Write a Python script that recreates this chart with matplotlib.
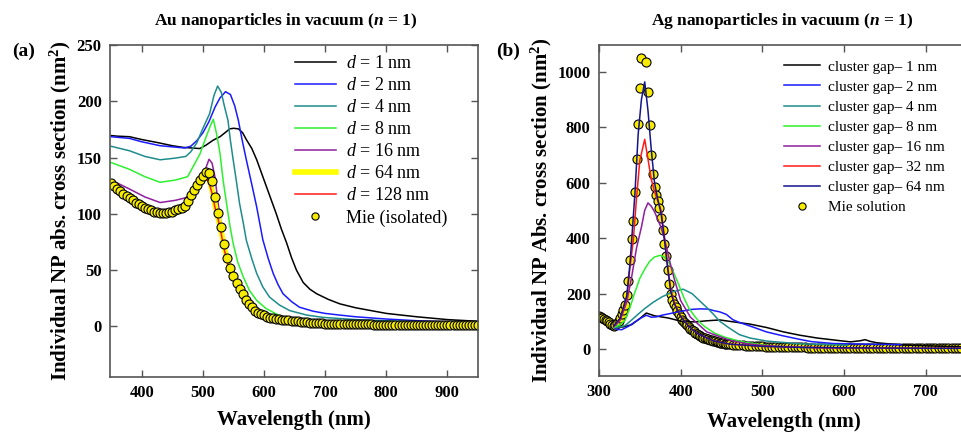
import numpy as np
import matplotlib
matplotlib.use("Agg")
import matplotlib.pyplot as plt

plt.rcParams['font.family'] = ['Liberation Serif', 'DejaVu Serif']
plt.rcParams['mathtext.fontset'] = 'custom'
plt.rcParams['mathtext.rm'] = 'Liberation Serif'
plt.rcParams['mathtext.it'] = 'Liberation Serif:italic'
plt.rcParams['mathtext.bf'] = 'Liberation Serif:bold'
plt.rcParams['mathtext.bfit'] = 'Liberation Serif:italic:bold'

# ---------------- (a) Au nanoparticles ----------------
au_d1_x = [350, 360, 380, 400, 424, 450, 468, 495, 505, 517, 528, 536, 544, 550, 558, 565, 571, 580,
           588, 596, 604, 612, 620, 628, 637, 645, 653, 664, 675, 686, 705, 724, 750, 800, 850, 900, 950]
au_d1_y = [169.5, 169, 168.5, 166, 163.5, 160.5, 159, 158, 161, 165.5, 168.5, 172, 175.5, 176, 175.5, 172,
           166, 158, 148, 136, 124, 112, 100, 87, 74, 61, 50, 39, 33, 29, 24, 20, 16.5, 11.5, 8.5, 6, 4.5]

au_d2_x = [350, 380, 400, 430, 460, 470, 480, 490, 500, 510, 520, 528, 537, 545, 552, 558, 564, 571,
           580, 588, 598, 607, 615, 623, 631, 645, 658, 680, 700, 724, 750, 800, 850, 900, 950]
au_d2_y = [168.5, 167, 164, 160.5, 159, 158.5, 160, 165, 172, 182, 195, 203, 208.5, 206, 196, 183, 166, 148,
           126, 106, 77, 60, 47, 37, 29, 22, 17, 13.5, 11.5, 10, 8.5, 6.5, 5, 4, 3]

au_d4_x = [350, 380, 405, 430, 455, 472, 480, 490, 500, 511, 518, 524, 530, 535, 541, 545, 549.5, 555,
           560, 566, 571, 580, 588, 598, 609, 625, 642, 670, 696, 750, 800, 850, 950]
au_d4_y = [160, 156, 151, 148, 149.5, 151, 155, 163, 176, 189, 205, 213.5, 208, 196, 183, 165, 148, 128,
           109, 92, 76.5, 60, 47, 35, 26, 19, 14, 10, 8, 6, 5, 4, 3]

au_d8_x = [350, 380, 405, 430, 455, 475, 480, 490, 495, 505, 512, 517, 522, 528, 533, 538.7, 544, 549.5,
           557, 566, 576, 588, 603, 620, 642, 670, 700, 800, 950]
au_d8_y = [145.5, 139.5, 133, 128, 130, 133, 138, 148, 153, 168, 178, 184, 172, 153.6, 130, 109, 90, 73.6,
           57, 44, 32, 23, 16, 11, 6, 4, 3, 2.5, 2]

au_d16_x = [350, 380, 405, 430, 455, 470, 485, 495, 503, 510, 515, 519.6, 525, 533, 538, 544, 550, 555,
            562, 571, 585, 598.5, 620, 642, 700, 800, 950]
au_d16_y = [130, 122, 115, 110, 112, 114, 118, 124, 138, 148.5, 145, 133, 109, 79.5, 64, 52.8, 42, 35,
            27, 20, 14, 10, 7, 5, 3, 2, 1.5]

au_big_x = [350, 380, 410, 430, 450, 470, 480, 490, 500, 505, 510, 515, 520, 525, 530, 535, 540, 545,
            550, 560, 570, 580, 590, 600, 620, 640, 660, 700, 800, 950]
au_d64_y = [126.5, 114, 104, 101, 102, 107, 116, 123, 131, 134, 131, 121, 107, 96, 84, 70, 59, 50,
            43, 32, 23.5, 17, 13, 10, 6.5, 5.2, 4.2, 2.6, 1.6, 1]
au_d128_y = [126, 114, 104, 101, 102, 107, 115, 122, 129, 131, 128, 118, 105, 95, 82, 68, 57, 48,
             41, 31, 22.5, 16.5, 12.5, 9.5, 6.3, 5, 4, 2.5, 1.5, 1]

au_mie_x = np.arange(350, 951, 5)
au_mie_y = [127, 124.5, 122, 120, 118, 116, 114, 112, 110, 108.5,
            107, 105.5, 104, 103, 102, 101.5, 101, 101, 101, 101.5,
            102, 103, 104, 105.5, 107, 111, 117, 121.5, 125.5, 130,
            134, 137, 136.5, 129, 115, 101, 88, 73, 61, 52,
            45, 38.5, 33.5, 28.5, 23.5, 19.5, 16.8, 14, 12.3, 11,
            9.7, 8.7, 7.8, 7, 6.5, 6.1, 5.8, 5.5, 5.3, 5.0,
            4.7, 4.4, 4.1, 3.8, 3.5, 3.3, 3.1, 2.9, 2.7, 2.6,
            2.5, 2.4,
            2.3, 2.25, 2.2, 2.15, 2.1, 2.05, 2.0, 1.95, 1.9, 1.85,
            1.8, 1.75, 1.7, 1.65, 1.6, 1.58, 1.55, 1.52, 1.5, 1.47,
            1.44, 1.41, 1.38, 1.35, 1.32, 1.3, 1.28, 1.26, 1.24, 1.22,
            1.2, 1.18, 1.16, 1.14, 1.12, 1.1, 1.08, 1.06, 1.04, 1.02,
            1.0, 0.99, 0.98, 0.97, 0.96, 0.95, 0.94, 0.93, 0.92]

# ---------------- (b) Ag nanoparticles ----------------
ag_g1_x = [318, 330, 340, 350, 358, 368, 385, 401, 418, 432, 448, 465, 485, 505, 526, 546, 567, 590,
           608, 620, 626, 632, 640, 669, 700, 745]
ag_g1_y = [78, 80, 88, 110, 130, 120, 112, 100, 98, 102, 105, 98, 90, 78, 62, 50, 40, 32,
           26, 30, 34, 28, 23, 15, 12, 8]

ag_g2_x = [318, 322, 328, 336, 344, 352, 358, 364, 370, 377, 387, 397, 413, 424, 434, 440, 448, 456,
           464, 472, 490, 505, 525, 546, 560, 587, 640, 670]
ag_g2_y = [78, 71, 70, 82, 98, 113, 122, 115, 116, 122, 128, 134, 143, 145, 144, 139, 134, 125,
           106, 96, 78, 62, 48, 35, 27, 20, 17, 16]

ag_g4_x = [318, 326, 332, 340, 348, 356, 366, 377, 390, 403, 414, 424, 432, 440, 448, 460, 472, 485,
           505, 546, 605]
ag_g4_y = [78, 80, 85, 105, 126, 146, 168, 188, 206, 216, 200, 172, 150, 126, 100, 75, 52, 40,
           29, 19, 14]

ag_g8_x = [318, 326, 332, 338, 344, 350, 356, 362, 368, 375, 380, 386, 392, 398, 404, 410, 418, 424,
           430, 442, 454, 464, 476, 500, 520, 560]
ag_g8_y = [78, 88, 104, 150, 205, 255, 288, 316, 332, 338, 332, 310, 272, 230, 185, 148, 115, 95,
           80, 57, 43, 35, 26, 15, 9, 5]

ag_g16_x = [318, 326, 334, 340, 346, 352, 356, 360, 364, 368, 372, 376, 380, 384, 388, 392, 400, 412,
            432, 460, 480, 500, 550, 600]
ag_g16_y = [80, 104, 170, 260, 365, 440, 500, 527, 515, 495, 468, 438, 400, 350, 300, 255, 175, 115,
            62, 32, 20, 13, 6, 4]

ag_g32_x = [318, 326, 334, 338, 342, 346, 350, 356, 360, 364, 368, 372, 376, 380, 384, 388, 392, 396,
            400, 410, 420, 440, 460, 500, 550, 600, 650, 700, 745]
ag_g32_y = [82, 110, 185, 295, 392, 545, 680, 756, 685, 612, 568, 534, 500, 410, 300, 215, 170, 142,
            118, 82, 57, 30, 18, 10, 6, 4.5, 3.8, 3.2, 2.8]

ag_g64_x = [318, 326, 334, 338, 340, 344, 348, 352, 356, 360, 364, 368, 372, 376, 380, 384, 388, 392,
            396, 400, 410, 420, 440, 460, 500, 550, 600, 650, 700, 745]
ag_g64_y = [83, 112, 192, 310, 392, 560, 775, 900, 963, 860, 720, 600, 540, 490, 400, 295, 205, 165,
            140, 117, 82, 57, 30, 18, 10, 6, 4.5, 3.8, 3.2, 2.8]

ag_mie_x = np.concatenate([np.arange(300, 460, 2), np.arange(460, 748, 4)])
ag_mie_y = [120, 117, 113, 110, 106, 101, 96, 91, 87, 84,
            87, 94, 103, 113, 125, 140, 160, 195, 245, 320,
            395, 460, 565, 685, 812, 940, 1050, 1150, 1150, 1035,
            925, 808, 700, 630, 585, 557, 534, 510, 472, 428,
            380, 336, 285, 235, 198, 178, 162, 150, 138, 126,
            114, 106, 99, 92, 86, 80, 74, 69, 64, 59,
            55, 51, 47, 44, 41, 39, 37, 35, 33, 31,
            29, 27.5, 26, 24.5, 23, 21.5, 20.5, 19.5, 18.5, 17.5,
            16.8, 15.8, 14.9, 14, 13.2, 12.5, 11.8, 11.2, 10.6, 10.1,
            9.6, 9.2, 8.8, 8.4, 8.0, 7.7, 7.4, 7.1, 6.8, 6.6,
            6.4, 6.2, 6.0, 5.8, 5.6, 5.4, 5.3, 5.2, 5.0, 4.9,
            4.8, 4.7, 4.6, 4.5, 4.4, 4.3, 4.2, 4.1, 4.0, 3.95,
            3.9, 3.85, 3.8, 3.75, 3.7, 3.65, 3.6, 3.55, 3.5, 3.45,
            3.4, 3.35, 3.3, 3.25, 3.2, 3.15, 3.1, 3.05, 3.0, 2.95,
            2.9, 2.85, 2.8, 2.75, 2.7, 2.65, 2.6, 2.55, 2.5, 2.45,
            2.4, 2.35]

W, H = 961, 433
fig = plt.figure(figsize=(W / 100, H / 100), dpi=100)


def px_rect(x0, y0, x1, y1):
    return [x0 / W, 1 - y1 / H, (x1 - x0) / W, (y1 - y0) / H]


def style_axes(ax):
    for s in ax.spines.values():
        s.set_color('#555555')
        s.set_linewidth(1.2)
    ax.tick_params(direction='in', top=True, right=True, length=5, width=1,
                   color='#555555', labelsize=12, pad=6)
    for lab in ax.get_xticklabels() + ax.get_yticklabels():
        lab.set_fontweight('bold')


ax1 = fig.add_axes(px_rect(110, 45, 478, 377))
ax1.plot(au_d1_x, au_d1_y, color='black', lw=1.1, label=r'$d$ = 1 nm')
ax1.plot(au_d2_x, au_d2_y, color='#1a1aff', lw=1.1, label=r'$d$ = 2 nm')
ax1.plot(au_d4_x, au_d4_y, color='#1f8c8c', lw=1.1, label=r'$d$ = 4 nm')
ax1.plot(au_d8_x, au_d8_y, color='#2ef02e', lw=1.1, label=r'$d$ = 8 nm')
ax1.plot(au_d16_x, au_d16_y, color='#8e1e9e', lw=1.1, label=r'$d$ = 16 nm')
ax1.plot(au_big_x, au_d64_y, color='#ffff00', lw=4, label=r'$d$ = 64 nm')
ax1.plot(au_big_x, au_d128_y, color='#ff1a1a', lw=1.1, label=r'$d$ = 128 nm')
ax1.plot(au_mie_x, au_mie_y, 'o', ms=6.5, mfc='#f7ec00', mec='black', mew=0.8,
         label='Mie (isolated)')
ax1.set_xlim(348, 950)
ax1.set_ylim(-45, 250)
ax1.set_xticks([400, 500, 600, 700, 800, 900])
ax1.set_yticks([0, 50, 100, 150, 200, 250])
style_axes(ax1)
ax1.set_xlabel('Wavelength (nm)', fontsize=15, fontweight='bold')
ax1.xaxis.set_label_coords(0.5, -0.098)
ax1.xaxis.label.set_va('top')
ax1.set_ylabel(r'Individual NP abs. cross section (nm$^{\mathbf{2}}$)', fontsize=15, fontweight='bold')
ax1.yaxis.set_label_coords(-0.10, 0.5)
leg1 = ax1.legend(loc='upper left', bbox_to_anchor=(295 / W, 1 - 55 / H), bbox_transform=fig.transFigure,
                  frameon=False, fontsize=13, handlelength=2.25, handletextpad=0.55,
                  labelspacing=0.28, borderpad=0, borderaxespad=0, numpoints=1, markerscale=0.8)

ax2 = fig.add_axes(px_rect(599, 45, 990, 376))
ax2.plot(ag_mie_x, ag_mie_y, 'o', ms=6.5, mfc='#f7ec00', mec='black', mew=0.8, zorder=2,
         label='Mie solution')
ax2.plot(ag_g1_x, ag_g1_y, color='black', lw=1.1, zorder=3, label='cluster gap– 1 nm')
ax2.plot(ag_g2_x, ag_g2_y, color='#1a1aff', lw=1.1, zorder=3, label='cluster gap– 2 nm')
ax2.plot(ag_g4_x, ag_g4_y, color='#1f8c8c', lw=1.1, zorder=3, label='cluster gap– 4 nm')
ax2.plot(ag_g8_x, ag_g8_y, color='#2ef02e', lw=1.1, zorder=3, label='cluster gap– 8 nm')
ax2.plot(ag_g16_x, ag_g16_y, color='#8e1e9e', lw=1.1, zorder=3, label='cluster gap– 16 nm')
ax2.plot(ag_g32_x, ag_g32_y, color='#ff1a1a', lw=1.1, zorder=3, label='cluster gap– 32 nm')
ax2.plot(ag_g64_x, ag_g64_y, color='#14148c', lw=1.1, zorder=3, label='cluster gap– 64 nm')
ax2.set_xlim(300, 779)
ax2.set_ylim(-97, 1096)
ax2.set_xticks([300, 400, 500, 600, 700])
ax2.set_yticks([0, 200, 400, 600, 800, 1000])
style_axes(ax2)
ax2.set_xlabel('Wavelength (nm)', fontsize=15, fontweight='bold')
ax2.xaxis.set_label_coords(0.472, -0.108)
ax2.xaxis.label.set_va('top')
ax2.set_ylabel(r'Individual NP Abs. cross section (nm$^{\mathbf{2}}$)', fontsize=15, fontweight='bold')
ax2.yaxis.set_label_coords(-0.115, 0.5)
h, l = ax2.get_legend_handles_labels()
order = [1, 2, 3, 4, 5, 6, 7, 0]
ax2.legend([h[i] for i in order], [l[i] for i in order], loc='upper left',
           bbox_to_anchor=(784 / W, 1 - 60 / H), bbox_transform=fig.transFigure,
           frameon=False, fontsize=11, handlelength=2.35, handletextpad=0.5,
           labelspacing=0.42, borderpad=0, borderaxespad=0, numpoints=1, markerscale=0.8)

fig.text(285.5 / W, 1 - 21 / H, r'Au nanoparticles in vacuum ($\mathbfit{n}$ = 1)', ha='center',
         va='center', fontsize=12.5, fontweight='bold')
fig.text(782 / W, 1 - 21 / H, r'Ag nanoparticles in vacuum ($\mathbfit{n}$ = 1)', ha='center',
         va='center', fontsize=12.5, fontweight='bold')
fig.text(24 / W, 1 - 51 / H, '(a)', ha='center', va='center', fontsize=14, fontweight='bold')
fig.text(508 / W, 1 - 51 / H, '(b)', ha='center', va='center', fontsize=14, fontweight='bold')

fig.savefig('out.png', dpi=100)
